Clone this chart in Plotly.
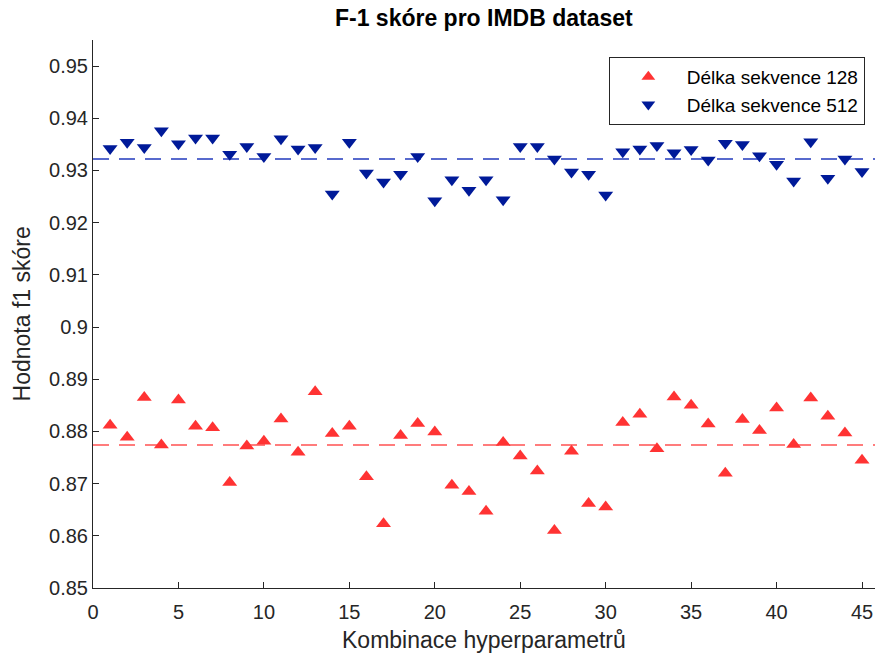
import plotly.graph_objects as go

x = list(range(1, 46))
seq128 = [0.8812, 0.8789, 0.8865, 0.8774, 0.8860, 0.8810, 0.8807, 0.8702, 0.8772, 0.8781,
          0.8824, 0.8760, 0.8876, 0.8796, 0.8810, 0.8713, 0.8623, 0.8792, 0.8815, 0.8799,
          0.8697, 0.8685, 0.8647, 0.8779, 0.8753, 0.8724, 0.8610, 0.8762, 0.8662, 0.8655,
          0.8817, 0.8833, 0.8767, 0.8866, 0.8850, 0.8814, 0.8720, 0.8823, 0.8802, 0.8845,
          0.8775, 0.8864, 0.8829, 0.8797, 0.8745]
seq512 = [0.9342, 0.9354, 0.9344, 0.9376, 0.9351, 0.9362, 0.9362, 0.9331, 0.9346, 0.9327,
          0.9361, 0.9341, 0.9344, 0.9255, 0.9354, 0.9295, 0.9278, 0.9293, 0.9327, 0.9242,
          0.9282, 0.9262, 0.9282, 0.9244, 0.9346, 0.9346, 0.9322, 0.9297, 0.9293, 0.9253,
          0.9336, 0.9341, 0.9348, 0.9334, 0.9340, 0.9320, 0.9352, 0.9350, 0.9328, 0.9312,
          0.9280, 0.9355, 0.9285, 0.9322, 0.9298]
mean128 = 0.8774
mean512 = 0.9322
x_range = [0, 45.76]
y_ticks = [0.85, 0.86, 0.87, 0.88, 0.89, 0.90, 0.91, 0.92, 0.93, 0.94, 0.95]
y_ticktext = ["0.85", "0.86", "0.87", "0.88", "0.89", "0.9", "0.91", "0.92", "0.93", "0.94", "0.95"]
x_ticks = [0, 5, 10, 15, 20, 25, 30, 35, 40, 45]

RED = "#ff3333"
BLUE = "#001a99"
FONT = "Liberation Sans, Arial, sans-serif"

fig = go.Figure()
fig.add_trace(go.Scatter(x=x_range, y=[mean128, mean128], mode="lines",
                         line=dict(color="rgba(255,110,110,0.9)", width=2.2, dash="16px,10px"),
                         showlegend=False, hoverinfo="skip"))
fig.add_trace(go.Scatter(x=x_range, y=[mean512, mean512], mode="lines",
                         line=dict(color="rgba(70,90,200,0.9)", width=2.2, dash="16px,10px"),
                         showlegend=False, hoverinfo="skip"))
fig.add_trace(go.Scatter(x=x, y=seq128, mode="markers", name="Délka sekvence 128",
                         marker=dict(symbol="triangle-up", size=13, color=RED)))
fig.add_trace(go.Scatter(x=x, y=seq512, mode="markers", name="Délka sekvence 512",
                         marker=dict(symbol="triangle-down", size=13, color=BLUE)))

axis_common = dict(showline=True, linecolor="#262626", linewidth=1, ticks="inside",
                   ticklen=6, tickcolor="#262626", showgrid=False, zeroline=False,
                   tickfont=dict(family=FONT, size=20, color="#262626"), mirror=False)

fig.update_layout(
    width=875, height=655,
    margin=dict(l=93, r=0, t=40, b=67),
    paper_bgcolor="white", plot_bgcolor="white",
    title=dict(text="<b>F-1 skóre pro IMDB dataset</b>", x=0.553,
               xanchor="center", y=0.972, yanchor="middle",
               font=dict(family=FONT, size=23, color="black")),
    xaxis=dict(range=x_range, tickvals=x_ticks, ticklabelstandoff=6, **axis_common),
    yaxis=dict(range=[0.85, 0.955], tickvals=y_ticks, ticktext=y_ticktext, **axis_common),
    legend=dict(x=0.987, xanchor="right", y=0.969, yanchor="top",
                bordercolor="#262626", borderwidth=1, bgcolor="white",
                font=dict(family=FONT, size=19, color="black"),
                tracegroupgap=0, itemsizing="constant", itemwidth=67),
    showlegend=True,
    annotations=[
        dict(text="Kombinace hyperparametrů", xref="paper", yref="paper",
             x=0.5, y=-0.0949, xanchor="center", yanchor="middle", showarrow=False,
             font=dict(family=FONT, size=23, color="#262626")),
        dict(text="Hodnota f1 skóre", xref="paper", yref="paper",
             x=-0.0902, y=0.5, xanchor="center", yanchor="middle", showarrow=False,
             textangle=-90, font=dict(family=FONT, size=23, color="#262626")),
    ],
)

fig.write_html("out.html")
